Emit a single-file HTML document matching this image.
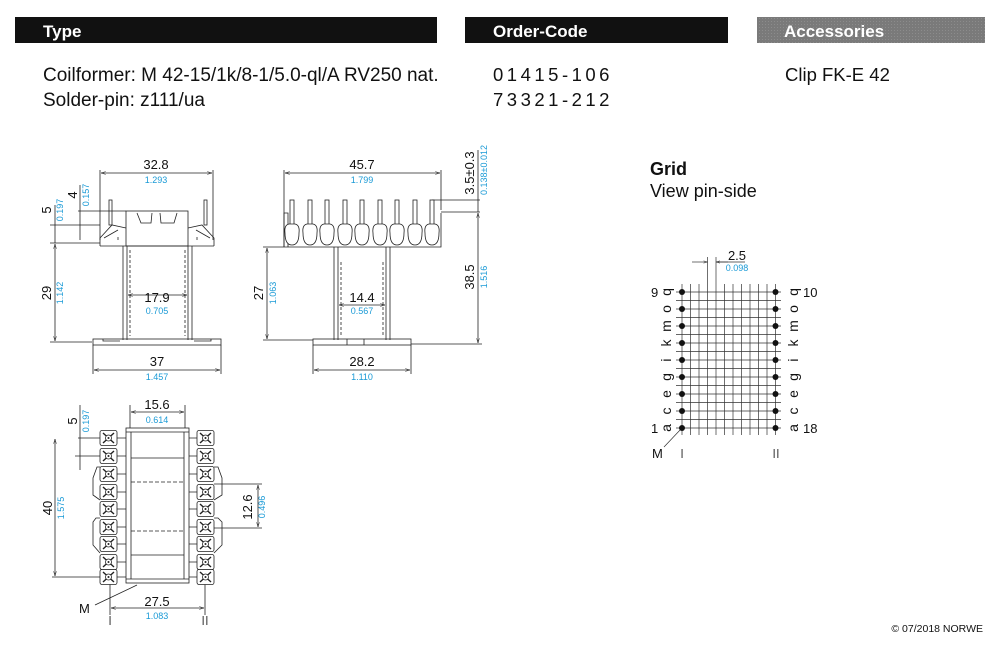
<!DOCTYPE html>
<html><head><meta charset="utf-8"><style>
body{margin:0;background:#fff;width:1000px;height:650px;overflow:hidden}
svg{display:block}
text{font-family:"Liberation Sans",sans-serif}
.b{fill:#1a9ad6;font-size:9px}
.k{fill:#111;font-size:13px}
</style></head><body>
<svg width="1000" height="650" viewBox="0 0 1000 650" xmlns="http://www.w3.org/2000/svg">
<defs>
<pattern id="dots" width="3" height="3" patternUnits="userSpaceOnUse"><rect width="3" height="3" fill="#7a7a7a"/><rect width="1" height="1" fill="#8c8c8c"/></pattern>
<marker id="a" viewBox="0 0 10 10" refX="10" refY="5" markerWidth="6" markerHeight="6" orient="auto-start-reverse"><path d="M0,2 L10,5 L0,8" fill="none" stroke="#222" stroke-width="1"/></marker>
<g id="t"><rect x="0" y="-7.5" width="17" height="15" rx="2" fill="#fff" stroke="#222" stroke-width="0.8"/><path d="M3,-5 L14,5 M3,5 L14,-5" stroke="#222" stroke-width="1.4"/><circle cx="8.5" cy="0" r="3" fill="#fff" stroke="#222" stroke-width="0.8"/><circle cx="8.5" cy="0" r="1" fill="#222"/></g>
<g id="p"><rect x="-2" y="0" width="4" height="27" fill="#fff" stroke="#222" stroke-width="0.8"/><path d="M-7,33 Q-8,25 -3,24 L3,24 Q8,25 7,33 Q7,45 0,45 Q-7,45 -7,33 Z" fill="#fff" stroke="#222" stroke-width="0.8"/></g>
</defs>

<rect x="15" y="17" width="422" height="26" fill="#111"/>
<rect x="465" y="17" width="263" height="26" fill="#111"/>
<rect x="757" y="17" width="228" height="26" fill="url(#dots)"/>
<g fill="#fff" font-weight="bold" font-size="17"><text x="43" y="37">Type</text><text x="493" y="37">Order-Code</text><text x="784" y="37">Accessories</text></g>
<g fill="#111" font-size="19">
<text x="43" y="81">Coilformer:  M 42-15/1k/8-1/5.0-ql/A RV250 nat.</text>
<text x="43" y="106">Solder-pin:  z111/ua</text>
<text x="493" y="81" letter-spacing="3.5" font-size="18.5">01415-106</text>
<text x="493" y="106" letter-spacing="3.5" font-size="18.5">73321-212</text>
<text x="785" y="81" font-size="18.5">Clip FK-E 42</text>
<text x="650" y="175" font-weight="bold" font-size="18">Grid</text>
<text x="650" y="197" font-size="18">View pin-side</text>
</g>
<text x="983" y="632" font-size="10.5" text-anchor="end" fill="#111">© 07/2018 NORWE</text>

<g stroke="#222" stroke-width="0.8" fill="none">
<path d="M100,170 V240 M213,170 V240"/>
<line x1="101" y1="173" x2="212" y2="173" marker-start="url(#a)" marker-end="url(#a)"/>
<rect x="109" y="200" width="3" height="25"/><rect x="204" y="200" width="3" height="25"/>
<rect x="126" y="211" width="62" height="35" fill="#fff"/>
<path d="M137,213 L141,223 L151,223 L152,213 M160,213 L161,223 L174,223 L177,213"/>
<path d="M100,246 L100,238 L112,225 L126,228 M214,246 L214,238 L202,225 L188,228 M100,246 H214 M104,238 L118,230 M210,238 L196,230"/>
<path d="M123,246 V340 M192,246 V340 M127,246 V340 M188,246 V340"/>
<path d="M130,250 V336 M185,250 V336 M118,240 V236 M197,240 V236" stroke-dasharray="3,2"/>
<rect x="93" y="339" width="128" height="6"/>
<path d="M103,339 V341 H120 M211,339 V341 H194"/>
<line x1="128" y1="295" x2="187" y2="295" marker-start="url(#a)" marker-end="url(#a)"/>
<path d="M93,345 V374 M221,345 V374"/>
<line x1="94" y1="370" x2="220" y2="370" marker-start="url(#a)" marker-end="url(#a)"/>
<path d="M50,225 H100 M50,243 H100 M50,342 H92 M78,211 H126"/>
<line x1="55" y1="244" x2="55" y2="341" marker-start="url(#a)" marker-end="url(#a)"/>
<line x1="55" y1="205" x2="55" y2="243"/>
<line x1="80" y1="185" x2="80" y2="240"/>

<path d="M284,170 V247 M441,170 V210"/>
<line x1="285" y1="173" x2="440" y2="173" marker-start="url(#a)" marker-end="url(#a)"/>
<path d="M284,247 H441 V213 M284,247 V213 H288 V247"/>
<path d="M441,212 H480 M432,200 H480 M411,344 H482"/>
<line x1="478" y1="213" x2="478" y2="343" marker-start="url(#a)" marker-end="url(#a)"/>
<line x1="478" y1="150" x2="478" y2="212"/>
<path d="M338,247 V340 M386,247 V340 M334,247 V340 M390,247 V340"/>
<path d="M341,262 V336 M383,262 V336" stroke-dasharray="3,2"/>
<rect x="313" y="339" width="98" height="6"/>
<path d="M347,339 V345 M364,339 V345"/>
<line x1="339" y1="305" x2="385" y2="305" marker-start="url(#a)" marker-end="url(#a)"/>
<path d="M313,345 V374 M411,345 V374 M263,247 H284 M263,340 H313"/>
<line x1="314" y1="370" x2="410" y2="370" marker-start="url(#a)" marker-end="url(#a)"/>
<line x1="267" y1="248" x2="267" y2="339" marker-start="url(#a)" marker-end="url(#a)"/>
</g>
<g>
<use href="#p" x="292" y="200"/><use href="#p" x="310" y="200"/><use href="#p" x="327" y="200"/><use href="#p" x="345" y="200"/><use href="#p" x="362" y="200"/><use href="#p" x="380" y="200"/><use href="#p" x="397" y="200"/><use href="#p" x="415" y="200"/><use href="#p" x="432" y="200"/>
</g>

<text class="k" x="156" y="169" text-anchor="middle">32.8</text><text class="b" x="156" y="183" text-anchor="middle">1.293</text>
<text class="k" x="157" y="302" text-anchor="middle">17.9</text><text class="b" x="157" y="314" text-anchor="middle">0.705</text>
<text class="k" x="157" y="366" text-anchor="middle">37</text><text class="b" x="157" y="380" text-anchor="middle">1.457</text>
<text class="k" transform="translate(51,293) rotate(-90)" text-anchor="middle">29</text><text class="b" transform="translate(63,293) rotate(-90)" text-anchor="middle">1.142</text>
<text class="k" transform="translate(51,210) rotate(-90)" text-anchor="middle">5</text><text class="b" transform="translate(63,210) rotate(-90)" text-anchor="middle">0.197</text>
<text class="k" transform="translate(77,195) rotate(-90)" text-anchor="middle">4</text><text class="b" transform="translate(89,195) rotate(-90)" text-anchor="middle">0.157</text>
<text class="k" x="362" y="169" text-anchor="middle">45.7</text><text class="b" x="362" y="183" text-anchor="middle">1.799</text>
<text class="k" x="362" y="302" text-anchor="middle">14.4</text><text class="b" x="362" y="314" text-anchor="middle">0.567</text>
<text class="k" x="362" y="366" text-anchor="middle">28.2</text><text class="b" x="362" y="380" text-anchor="middle">1.110</text>
<text class="k" transform="translate(263,293) rotate(-90)" text-anchor="middle">27</text><text class="b" transform="translate(276,293) rotate(-90)" text-anchor="middle">1.063</text>
<text class="k" transform="translate(474,277) rotate(-90)" text-anchor="middle">38.5</text><text class="b" transform="translate(487,277) rotate(-90)" text-anchor="middle">1.516</text>
<text class="k" transform="translate(474,173) rotate(-90)" text-anchor="middle">3.5±0.3</text><text class="b" transform="translate(487,170) rotate(-90)" text-anchor="middle">0.138±0.012</text>

<g stroke="#333" stroke-width="0.7">
<path d="M682,284 V435 M690.5,284 V435 M699,284 V435 M707.5,284 V435 M716,284 V435 M724.5,284 V435 M733,284 V435 M741.5,284 V435 M750,284 V435 M758.5,284 V435 M767,284 V435 M775.5,284 V435"/>
<path d="M676,292 H781 M676,300.5 H781 M676,309 H781 M676,317.5 H781 M676,326 H781 M676,334.5 H781 M676,343 H781 M676,351.5 H781 M676,360 H781 M676,368.5 H781 M676,377 H781 M676,385.5 H781 M676,394 H781 M676,402.5 H781 M676,411 H781 M676,419.5 H781 M676,428 H781"/>
<path d="M707.5,257 V284 M716,257 V284 M664,447 L681,429"/>
<line x1="692" y1="262" x2="707.5" y2="262" marker-end="url(#a)"/><line x1="728" y1="262" x2="716" y2="262" marker-end="url(#a)"/><line x1="716" y1="262" x2="745" y2="262"/>
</g>
<g fill="#111">
<circle cx="682" cy="292" r="3"/><circle cx="682" cy="309" r="3"/><circle cx="682" cy="326" r="3"/><circle cx="682" cy="343" r="3"/><circle cx="682" cy="360" r="3"/><circle cx="682" cy="377" r="3"/><circle cx="682" cy="394" r="3"/><circle cx="682" cy="411" r="3"/><circle cx="682" cy="428" r="3"/>
<circle cx="775.5" cy="292" r="3"/><circle cx="775.5" cy="309" r="3"/><circle cx="775.5" cy="326" r="3"/><circle cx="775.5" cy="343" r="3"/><circle cx="775.5" cy="360" r="3"/><circle cx="775.5" cy="377" r="3"/><circle cx="775.5" cy="394" r="3"/><circle cx="775.5" cy="411" r="3"/><circle cx="775.5" cy="428" r="3"/>
</g>
<text class="k" x="737" y="260" text-anchor="middle">2.5</text><text class="b" x="737" y="271" text-anchor="middle">0.098</text>
<g class="k"><text x="651" y="297">9</text><text x="651" y="433">1</text><text x="803" y="297">10</text><text x="803" y="433">18</text><text x="652" y="458">M</text></g>
<g font-size="14" fill="#111" text-anchor="middle">
<text transform="translate(671,292) rotate(-90)">q</text><text transform="translate(671,309) rotate(-90)">o</text><text transform="translate(671,326) rotate(-90)">m</text><text transform="translate(671,343) rotate(-90)">k</text><text transform="translate(671,360) rotate(-90)">i</text><text transform="translate(671,377) rotate(-90)">g</text><text transform="translate(671,394) rotate(-90)">e</text><text transform="translate(671,411) rotate(-90)">c</text><text transform="translate(671,428) rotate(-90)">a</text>
<text transform="translate(798,292) rotate(-90)">q</text><text transform="translate(798,309) rotate(-90)">o</text><text transform="translate(798,326) rotate(-90)">m</text><text transform="translate(798,343) rotate(-90)">k</text><text transform="translate(798,360) rotate(-90)">i</text><text transform="translate(798,377) rotate(-90)">g</text><text transform="translate(798,394) rotate(-90)">e</text><text transform="translate(798,411) rotate(-90)">c</text><text transform="translate(798,428) rotate(-90)">a</text>
</g>
<g font-family="Liberation Serif" font-size="13" fill="#555" text-anchor="middle"><text x="682" y="458">I</text><text x="776" y="458">II</text><text x="110" y="625">I</text><text x="205" y="625">II</text></g>

<g stroke="#222" stroke-width="0.8" fill="none">
<rect x="126" y="428" width="63" height="155" fill="#fff"/>
<path d="M131,432 V579 M184,432 V579 M126,432 H189 M126,579 H189 M131,458 H184 M131,555 H184"/>
<path d="M131,482 H184 M131,531 H184" stroke-dasharray="4,2"/>
<path d="M117,438 H126 M117,456 H126 M117,474 H126 M117,492 H126 M117,509 H126 M117,527 H126 M117,544 H126 M117,562 H126 M117,577 H126 M189,438 H197 M189,456 H197 M189,474 H197 M189,492 H197 M189,509 H197 M189,527 H197 M189,544 H197 M189,562 H197 M189,577 H197"/>
<path d="M100,467 H97 L93,478 V495 L100,500 M100,518 H96 L93,522 V545 L100,553"/>
<path d="M214,467 H218 L222,478 V495 L214,500 M214,518 H218 L222,522 V545 L214,553"/>
<path d="M130,405 V428 M185,405 V428"/>
<line x1="131" y1="412" x2="184" y2="412" marker-start="url(#a)" marker-end="url(#a)"/>
<path d="M78,438 H100 M75,456 H100 M52,577 H100 M214,484 H262 M214,528 H262"/>
<line x1="80" y1="405" x2="80" y2="470"/>
<line x1="55" y1="439" x2="55" y2="576" marker-start="url(#a)" marker-end="url(#a)"/>
<line x1="258" y1="485" x2="258" y2="527" marker-start="url(#a)" marker-end="url(#a)"/>
<path d="M110,583 V615 M205,583 V615 M95,605 L137,585"/>
<line x1="111" y1="608" x2="204" y2="608" marker-start="url(#a)" marker-end="url(#a)"/>
</g>
<g>
<use href="#t" x="100" y="438"/><use href="#t" x="100" y="456"/><use href="#t" x="100" y="474"/><use href="#t" x="100" y="492"/><use href="#t" x="100" y="509"/><use href="#t" x="100" y="527"/><use href="#t" x="100" y="544"/><use href="#t" x="100" y="562"/><use href="#t" x="100" y="577"/>
<use href="#t" x="197" y="438"/><use href="#t" x="197" y="456"/><use href="#t" x="197" y="474"/><use href="#t" x="197" y="492"/><use href="#t" x="197" y="509"/><use href="#t" x="197" y="527"/><use href="#t" x="197" y="544"/><use href="#t" x="197" y="562"/><use href="#t" x="197" y="577"/>
</g>
<text class="k" x="157" y="409" text-anchor="middle">15.6</text><text class="b" x="157" y="423" text-anchor="middle">0.614</text>
<text class="k" x="157" y="606" text-anchor="middle">27.5</text><text class="b" x="157" y="619" text-anchor="middle">1.083</text>
<text class="k" transform="translate(77,421) rotate(-90)" text-anchor="middle">5</text><text class="b" transform="translate(89,421) rotate(-90)" text-anchor="middle">0.197</text>
<text class="k" transform="translate(52,508) rotate(-90)" text-anchor="middle">40</text><text class="b" transform="translate(64,508) rotate(-90)" text-anchor="middle">1.575</text>
<text class="k" transform="translate(252,507) rotate(-90)" text-anchor="middle">12.6</text><text class="b" transform="translate(265,507) rotate(-90)" text-anchor="middle">0.496</text>
<text class="k" x="79" y="613">M</text>
</svg>
</body></html>
